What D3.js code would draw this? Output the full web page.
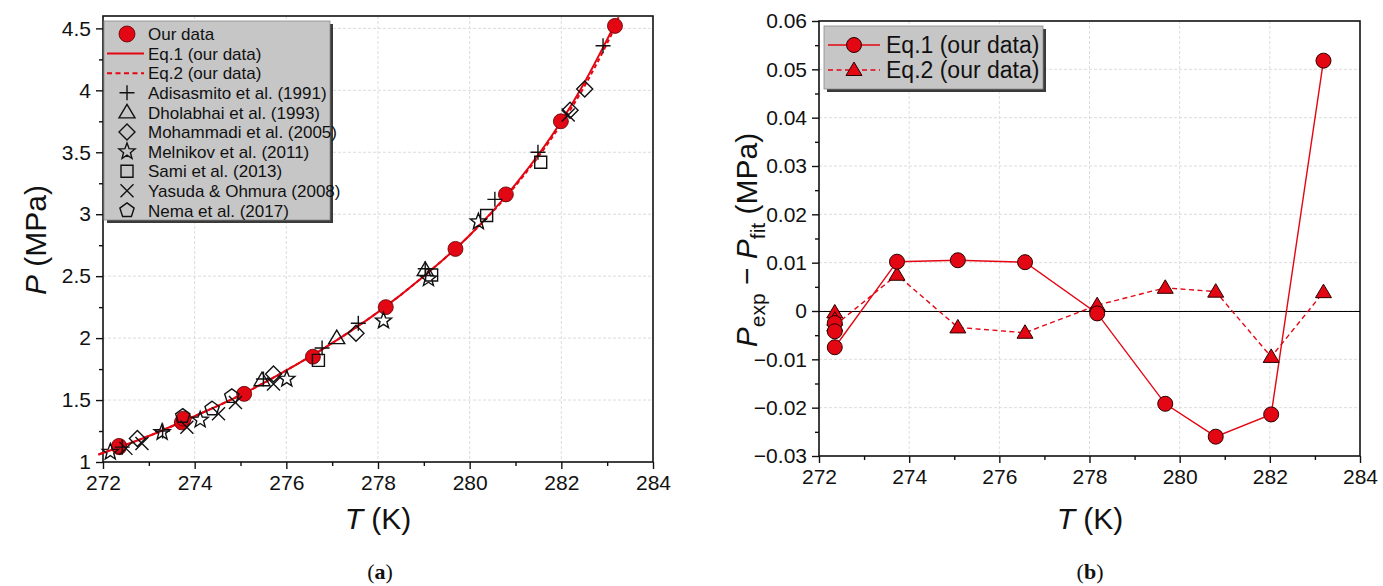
<!DOCTYPE html>
<html>
<head>
<meta charset="utf-8">
<script src="https://cdn.jsdelivr.net/npm/d3@7"></script>
<style>
  body { margin: 0; background: #fff; }
  text { font-family: "Liberation Sans", Arial, sans-serif; }
</style>
</head>
<body>
<script>
// ---- data ----
var ourT = [272.35, 272.35, 273.72, 273.76, 275.08, 276.58, 278.17, 279.69, 280.79, 281.99, 283.17];
var ourP = [1.12, 1.13, 1.32, 1.35, 1.55, 1.85, 2.25, 2.72, 3.16, 3.75, 4.52];

var eqT  = [271.9, 273.0, 274.0, 275.0, 276.0, 277.0, 278.0, 279.0, 280.0, 281.0, 282.0, 282.5, 283.0, 283.25];
var eq1P = [1.06, 1.21, 1.37, 1.54, 1.74, 1.96, 2.21, 2.50, 2.83, 3.24, 3.75, 4.06, 4.41, 4.59];
var eq2P = [1.06, 1.21, 1.37, 1.54, 1.74, 1.96, 2.21, 2.50, 2.83, 3.23, 3.73, 4.03, 4.38, 4.57];

var adisasmito = [[272.42, 1.12], [273.3, 1.25], [275.5, 1.67], [276.78, 1.92], [277.57, 2.12], [279.03, 2.56], [280.55, 3.12], [281.49, 3.50], [282.91, 4.36]];
var dholabhai  = [[275.47, 1.66], [277.1, 2.0], [279.03, 2.55]];
var mohammadi  = [[272.75, 1.19], [275.72, 1.71], [277.52, 2.04], [282.19, 3.84], [282.51, 4.01]];
var melnikov   = [[272.16, 1.08], [273.29, 1.24], [274.12, 1.34], [276.01, 1.67], [278.12, 2.14], [279.1, 2.48], [280.19, 2.94]];
var sami       = [[276.7, 1.82], [279.17, 2.51], [280.37, 2.99], [281.55, 3.42]];
var yasuda     = [[272.5, 1.11], [272.85, 1.15], [273.83, 1.28], [274.52, 1.39], [274.89, 1.48], [275.72, 1.63], [282.15, 3.80]];
var nema       = [[273.74, 1.37], [274.38, 1.43], [274.81, 1.53]];

var resT  = [272.35, 272.35, 272.35, 273.73, 275.08, 276.57, 278.17, 279.68, 280.8, 282.03, 283.19];
var res1  = [-0.0025, -0.0042, -0.0075, 0.0102, 0.0105, 0.0101, -0.0005, -0.0192, -0.026, -0.0214, 0.0518];
var res2  = [-0.0003, -0.0018, -0.0030, 0.0075, -0.0034, -0.0045, 0.0012, 0.0048, 0.0040, -0.0095, 0.0039];

var xTicks = [272, 274, 276, 278, 280, 282, 284];
var pTicks = [1, 1.5, 2, 2.5, 3, 3.5, 4, 4.5];
var rTicks = [-0.03, -0.02, -0.01, 0, 0.01, 0.02, 0.03, 0.04, 0.05, 0.06];

var red = "#e30613";

var svg = d3.select("body").append("svg")
    .attr("width", 1383)
    .attr("height", 586);

// marker paths
function plusPath(s) { return "M" + (-s) + ",0H" + s + "M0," + (-s) + "V" + s; }
function crossPath(s) { return "M" + (-s) + "," + (-s) + "L" + s + "," + s + "M" + (-s) + "," + s + "L" + s + "," + (-s); }
function polyPath(n, r, rot) {
    var pts = d3.range(n).map(function(i) {
        var a = rot + i * 2 * Math.PI / n;
        return [r * Math.sin(a), -r * Math.cos(a)];
    });
    return "M" + pts.join("L") + "Z";
}
function starPath(ro, ri) {
    var pts = d3.range(10).map(function(i) {
        var r = i % 2 ? ri : ro, a = i * Math.PI / 5;
        return [r * Math.sin(a), -r * Math.cos(a)];
    });
    return "M" + pts.join("L") + "Z";
}
var shapes = {
    plus: plusPath(7.5),
    tri: "M0,-8L8,5.5L-8,5.5Z",
    diamond: polyPath(4, 8, 0),
    star: starPath(8.5, 3.6),
    square: "M-6,-6H6V6H-6Z",
    cross: crossPath(6.5),
    pent: polyPath(5, 7.5, 0)
};

var lit = [
    {name: "Adisasmito et al. (1991)", data: adisasmito, shape: "plus"},
    {name: "Dholabhai et al. (1993)", data: dholabhai, shape: "tri"},
    {name: "Mohammadi et al. (2005)", data: mohammadi, shape: "diamond"},
    {name: "Melnikov et al. (2011)", data: melnikov, shape: "star"},
    {name: "Sami et al. (2013)", data: sami, shape: "square"},
    {name: "Yasuda & Ohmura (2008)", data: yasuda, shape: "cross"},
    {name: "Nema et al. (2017)", data: nema, shape: "pent"}
];

function drawFrame(g, x, y, xt, yt, xminor, yminor, yfmt) {
    var w = x.range()[1], h = y.range()[0];
    // grid
    g.selectAll(".gx").data(xt.slice(1, -1)).enter().append("line")
        .attr("x1", x).attr("x2", x).attr("y1", 0).attr("y2", h)
        .attr("stroke", "#dcdcdc").attr("stroke-dasharray", "3,2").attr("stroke-width", 1);
    g.selectAll(".gy").data(yt.filter(function(v) { return y(v) > 2 && y(v) < h - 2; })).enter().append("line")
        .attr("x1", 0).attr("x2", w).attr("y1", y).attr("y2", y)
        .attr("stroke", "#dcdcdc").attr("stroke-dasharray", "3,2").attr("stroke-width", 1);

    g.append("g").attr("transform", "translate(0," + h + ")")
        .call(d3.axisBottom(x).tickValues(xt).tickSize(7).tickPadding(6).tickFormat(d3.format("d")));
    g.append("g").attr("transform", "translate(0," + h + ")")
        .call(d3.axisBottom(x).tickValues(xminor).tickSize(4).tickFormat(""));
    g.append("g")
        .call(d3.axisLeft(y).tickValues(yt).tickSize(7).tickPadding(5).tickFormat(yfmt));
    g.append("g")
        .call(d3.axisLeft(y).tickValues(yminor).tickSize(4).tickFormat(""));
    g.selectAll(".domain").remove();
    g.selectAll(".tick line").attr("stroke", "#111").attr("stroke-width", 1.4);
    g.selectAll(".tick text").attr("font-size", "21px").attr("fill", "#111");

    g.append("rect").attr("x", 0).attr("y", 0).attr("width", w).attr("height", h)
        .attr("fill", "none").attr("stroke", "#111").attr("stroke-width", 1.6);
}

// ================= (a) =================
var xa = d3.scaleLinear().domain([272, 284]).range([0, 550]);
var ya = d3.scaleLinear().domain([1, 4.6]).range([446, 0]);
var ga = svg.append("g").attr("transform", "translate(103,16)");

drawFrame(ga, xa, ya, xTicks, pTicks,
    d3.range(273, 284, 2), d3.range(1.25, 4.6, 0.5),
    function(d) { return d3.format("~g")(d); });

var lineA = d3.line()
    .x(function(d) { return xa(d[0]); })
    .y(function(d) { return ya(d[1]); })
    .curve(d3.curveMonotoneX);

ga.append("path").datum(d3.zip(eqT, eq1P)).attr("d", lineA)
    .attr("fill", "none").attr("stroke", red).attr("stroke-width", 2);
ga.append("path").datum(d3.zip(eqT, eq2P)).attr("d", lineA)
    .attr("fill", "none").attr("stroke", red).attr("stroke-width", 2).attr("stroke-dasharray", "4,3");

ga.selectAll(".our").data(d3.zip(ourT, ourP)).enter().append("circle")
    .attr("cx", function(d) { return xa(d[0]); })
    .attr("cy", function(d) { return ya(d[1]); })
    .attr("r", 7.5)
    .attr("fill", red).attr("stroke", "#5a0000").attr("stroke-width", 0.8);

lit.forEach(function(s) {
    ga.selectAll(".m-" + s.shape).data(s.data).enter().append("path")
        .attr("d", shapes[s.shape])
        .attr("transform", function(d) { return "translate(" + xa(d[0]) + "," + ya(d[1]) + ")"; })
        .attr("fill", "none").attr("stroke", "#111").attr("stroke-width", 1.4);
});

// legend (a)
var lga = svg.append("g").attr("transform", "translate(104,21)");
lga.append("rect").attr("x", 3).attr("y", 3).attr("width", 226).attr("height", 199).attr("fill", "#3a3a3a");
lga.append("rect").attr("x", 0).attr("y", 0).attr("width", 226).attr("height", 199)
    .attr("fill", "#c6c6c6").attr("stroke", "#8a8a8a").attr("stroke-width", 0.8);
var rowY = function(i) { return 13 + i * 19.6; };
lga.append("circle").attr("cx", 23).attr("cy", rowY(0)).attr("r", 8)
    .attr("fill", red).attr("stroke", "#5a0000").attr("stroke-width", 0.8);
lga.append("line").attr("x1", 3).attr("x2", 40).attr("y1", rowY(1)).attr("y2", rowY(1))
    .attr("stroke", red).attr("stroke-width", 2);
lga.append("line").attr("x1", 3).attr("x2", 40).attr("y1", rowY(2)).attr("y2", rowY(2))
    .attr("stroke", red).attr("stroke-width", 2).attr("stroke-dasharray", "5,3.5");
lit.forEach(function(s, i) {
    lga.append("path").attr("d", shapes[s.shape])
        .attr("transform", "translate(23," + rowY(i + 3) + ")")
        .attr("fill", "none").attr("stroke", "#111").attr("stroke-width", 1.4);
});
var namesA = ["Our data", "Eq.1 (our data)", "Eq.2 (our data)"].concat(lit.map(function(s) { return s.name; }));
lga.selectAll(".lt").data(namesA).enter().append("text")
    .attr("x", 44).attr("y", function(d, i) { return rowY(i); })
    .attr("dy", "0.36em").attr("font-size", "17px").attr("fill", "#111")
    .text(function(d) { return d; });

// axis titles (a)
svg.append("text").attr("transform", "translate(46,240) rotate(-90)")
    .attr("text-anchor", "middle").attr("font-size", "30px").attr("fill", "#111")
    .call(function(t) {
        t.append("tspan").attr("font-style", "italic").text("P");
        t.append("tspan").text(" (MPa)");
    });
svg.append("text").attr("x", 378).attr("y", 529)
    .attr("text-anchor", "middle").attr("font-size", "30px").attr("fill", "#111")
    .call(function(t) {
        t.append("tspan").attr("font-style", "italic").text("T");
        t.append("tspan").text(" (K)");
    });
svg.append("text").attr("x", 380).attr("y", 579)
    .attr("text-anchor", "middle").attr("font-size", "22px")
    .style("font-family", "'Liberation Serif', 'Times New Roman', serif").attr("fill", "#111")
    .call(function(t) {
        t.append("tspan").text("(");
        t.append("tspan").attr("font-weight", "bold").text("a");
        t.append("tspan").text(")");
    });

// ================= (b) =================
var xb = d3.scaleLinear().domain([272, 284]).range([0, 541]);
var yb = d3.scaleLinear().domain([-0.03, 0.06]).range([435, 0]);
var gb = svg.append("g").attr("transform", "translate(819,21)");

drawFrame(gb, xb, yb, xTicks, rTicks,
    d3.range(273, 284, 2), d3.range(-0.025, 0.06, 0.01),
    function(d) { return d === 0 ? "0" : d3.format(".2f")(d); });

gb.append("line").attr("x1", 0).attr("x2", 541).attr("y1", Math.round(yb(0)) + 0.5).attr("y2", Math.round(yb(0)) + 0.5)
    .attr("stroke", "#000").attr("stroke-width", 1);

var lineB = d3.line()
    .x(function(d) { return xb(d[0]); })
    .y(function(d) { return yb(d[1]); });

var r1 = d3.zip(resT, res1), r2 = d3.zip(resT, res2);
gb.append("path").datum(r2.slice(2)).attr("d", lineB)
    .attr("fill", "none").attr("stroke", red).attr("stroke-width", 1.4).attr("stroke-dasharray", "5,3.5");
gb.append("path").datum(r1.slice(2)).attr("d", lineB)
    .attr("fill", "none").attr("stroke", red).attr("stroke-width", 1.4);

gb.selectAll(".tri").data(r2).enter().append("path")
    .attr("d", shapes.tri)
    .attr("transform", function(d) { return "translate(" + xb(d[0]) + "," + yb(d[1]) + ")"; })
    .attr("fill", red).attr("stroke", "#2a0000").attr("stroke-width", 1);
gb.selectAll(".circ").data(r1).enter().append("circle")
    .attr("cx", function(d) { return xb(d[0]); })
    .attr("cy", function(d) { return yb(d[1]); })
    .attr("r", 7.5)
    .attr("fill", red).attr("stroke", "#2a0000").attr("stroke-width", 1);

// legend (b)
var lgb = svg.append("g").attr("transform", "translate(824,26)");
lgb.append("rect").attr("x", 3).attr("y", 3).attr("width", 219).attr("height", 63).attr("fill", "#3a3a3a");
lgb.append("rect").attr("x", 0).attr("y", 0).attr("width", 219).attr("height", 63)
    .attr("fill", "#c6c6c6").attr("stroke", "#8a8a8a").attr("stroke-width", 0.8);
lgb.append("line").attr("x1", 4).attr("x2", 56).attr("y1", 19).attr("y2", 19)
    .attr("stroke", red).attr("stroke-width", 1.4);
lgb.append("circle").attr("cx", 30).attr("cy", 19).attr("r", 7.5)
    .attr("fill", red).attr("stroke", "#2a0000").attr("stroke-width", 1);
lgb.append("line").attr("x1", 4).attr("x2", 56).attr("y1", 44).attr("y2", 44)
    .attr("stroke", red).attr("stroke-width", 1.4).attr("stroke-dasharray", "5,3.5");
lgb.append("path").attr("d", shapes.tri).attr("transform", "translate(30,44)")
    .attr("fill", red).attr("stroke", "#2a0000").attr("stroke-width", 1);
lgb.selectAll(".lt").data(["Eq.1 (our data)", "Eq.2 (our data)"]).enter().append("text")
    .attr("x", 62).attr("y", function(d, i) { return 19 + i * 25; })
    .attr("dy", "0.36em").attr("font-size", "23px").attr("fill", "#111")
    .text(function(d) { return d; });

// axis titles (b)
svg.append("text").attr("transform", "translate(757,240) rotate(-90)")
    .attr("text-anchor", "middle").attr("font-size", "30px").attr("fill", "#111")
    .call(function(t) {
        t.append("tspan").attr("font-style", "italic").text("P");
        t.append("tspan").attr("font-size", "21px").attr("dy", 8).text("exp");
        t.append("tspan").attr("dy", -8).text(" \u2212 ");
        t.append("tspan").attr("font-style", "italic").text("P");
        t.append("tspan").attr("font-size", "21px").attr("dy", 8).text("fit");
        t.append("tspan").attr("dy", -8).text(" (MPa)");
    });
svg.append("text").attr("x", 1090).attr("y", 529)
    .attr("text-anchor", "middle").attr("font-size", "30px").attr("fill", "#111")
    .call(function(t) {
        t.append("tspan").attr("font-style", "italic").text("T");
        t.append("tspan").text(" (K)");
    });
svg.append("text").attr("x", 1090).attr("y", 579)
    .attr("text-anchor", "middle").attr("font-size", "22px")
    .style("font-family", "'Liberation Serif', 'Times New Roman', serif").attr("fill", "#111")
    .call(function(t) {
        t.append("tspan").text("(");
        t.append("tspan").attr("font-weight", "bold").text("b");
        t.append("tspan").text(")");
    });
</script>
</body>
</html>
